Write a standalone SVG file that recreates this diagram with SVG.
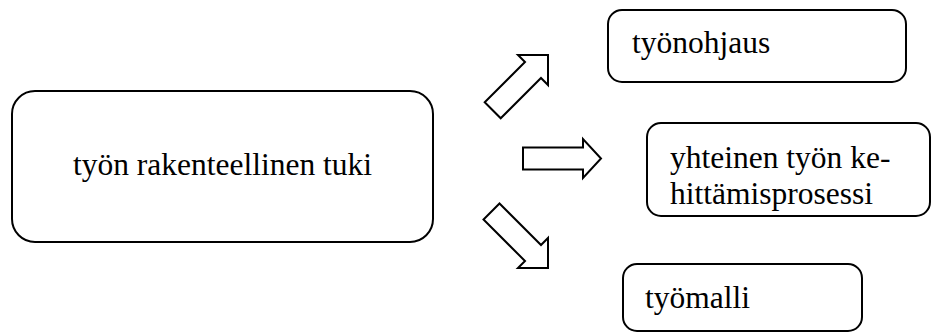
<svg xmlns="http://www.w3.org/2000/svg" width="934" height="332" viewBox="0 0 934 332">
  <style>
    .box { fill: #ffffff; stroke: #000000; stroke-width: 2; }
    .arrow { fill: #ffffff; stroke: #000000; stroke-width: 2; stroke-linejoin: miter; }
    text { font-family: 'Liberation Serif', 'Times New Roman', Times, 'DejaVu Serif', serif; font-size: 31.5px; fill: #000000; }
  </style>
  <rect width="934" height="332" fill="#ffffff"/>

  <g id="node-tuki">
    <rect class="box" x="12" y="91" width="421" height="151" rx="23" ry="23"/>
    <text x="222.5" y="175" text-anchor="middle">työn rakenteellinen tuki</text>
  </g>

  <g id="node-tyonohjaus">
    <rect class="box" x="608" y="10" width="298" height="72" rx="14" ry="14"/>
    <text x="632" y="53">työnohjaus</text>
  </g>

  <g id="node-kehittamisprosessi">
    <rect class="box" x="647" y="123" width="283" height="93" rx="14" ry="14"/>
    <text x="670" y="168">yhteinen työn ke-</text>
    <text x="670" y="204">hittämisprosessi</text>
  </g>

  <g id="node-tyomalli">
    <rect class="box" x="623" y="264" width="239" height="67" rx="14" ry="14"/>
    <text x="645" y="308">työmalli</text>
  </g>

  <g id="connectors">
    <!-- block arrow pointing up-right -->
    <polygon class="arrow" points="548,55 518,55 525,62 484.7,102.3 500.7,118.3 541,78 548,85"/>
    <!-- block arrow pointing right -->
    <polygon class="arrow" points="523,147.5 583,147.5 583,139 601,158.5 583,178 583,169.5 523,169.5"/>
    <!-- block arrow pointing down-right -->
    <polygon class="arrow" points="548,268 518,268 525,261 483.5,219.5 499.5,203.5 541,245 548,238"/>
  </g>
</svg>
